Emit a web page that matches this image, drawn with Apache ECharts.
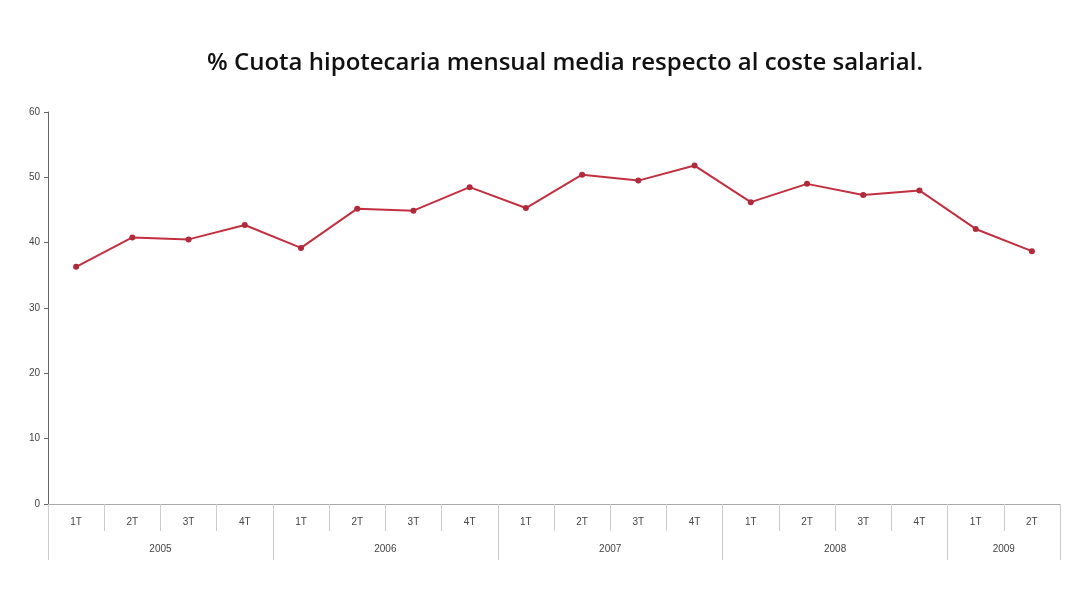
<!DOCTYPE html>
<html><head><meta charset="utf-8">
<script src="https://cdn.jsdelivr.net/npm/echarts@6/dist/echarts.min.js"></script>
<style>html,body{margin:0;padding:0;background:#fff}#c{width:1079px;height:589px}</style>
</head><body><div id="c"></div>
<script>
const quarters = ['1T','2T','3T','4T','1T','2T','3T','4T','1T','2T','3T','4T','1T','2T','3T','4T','1T','2T'];
const values = [36.3, 40.8, 40.5, 42.7, 39.2, 45.2, 44.9, 48.5, 45.3, 50.4, 49.5, 51.8, 46.2, 49.0, 47.3, 48.0, 42.1, 38.7];
const years = ['2005','2006','2007','2008','2009'];
const yearStarts = [0, 4, 8, 12, 16, 18];
const yTicks = [0, 10, 20, 30, 40, 50, 60];

const yearCenters = years.map((y, i) => (yearStarts[i] + yearStarts[i + 1]) / 2);
const chart = echarts.init(document.getElementById('c'), null, {renderer: 'canvas'});
chart.setOption({
  backgroundColor: '#fff',
  animation: false,
  title: {
    text: '% Cuota hipotecaria mensual media respecto al coste salarial.',
    left: 560, top: 46, textAlign: 'center',
    textStyle: {fontFamily: 'Open Sans', fontSize: 24, fontWeight: 600, color: '#111'}
  },
  grid: {left: 48, right: 19, top: 112, bottom: 85, containLabel: false},
  xAxis: [{
    type: 'category', data: quarters, boundaryGap: true,
    axisLine: {show: true, lineStyle: {color: '#aaa', width: 1}},
    axisTick: {show: true, interval: 0, length: 27, lineStyle: {color: '#ccc'}},
    axisLabel: {interval: 0, margin: 13, fontSize: 10, fontFamily: 'Liberation Sans', color: '#444'},
    splitLine: {show: false}
  }, {
    type: 'value', min: 0, max: 18, position: 'bottom',
    axisLine: {show: false},
    axisTick: {show: true, customValues: yearStarts, length: 56, lineStyle: {color: '#ccc'}},
    axisLabel: {customValues: yearCenters, margin: 40, fontSize: 10, fontFamily: 'Liberation Sans', color: '#444',
      formatter: v => years[yearCenters.indexOf(v)]},
    splitLine: {show: false}
  }],
  yAxis: {
    type: 'value', min: 0, max: 60, interval: 10,
    axisLine: {show: true, lineStyle: {color: '#666', width: 1}},
    axisTick: {show: true, length: 4, lineStyle: {color: '#666'}},
    axisLabel: {margin: 8, fontSize: 10, fontFamily: 'Liberation Sans', color: '#444',
      formatter: v => yTicks.includes(v) ? String(v) : ''},
    splitLine: {show: false}
  },
  series: [{
    type: 'line', data: values, xAxisIndex: 0,
    symbol: 'circle', symbolSize: 6,
    lineStyle: {color: '#c23040', width: 2},
    itemStyle: {color: '#b02a3a'}
  }]
});
</script></body></html>
